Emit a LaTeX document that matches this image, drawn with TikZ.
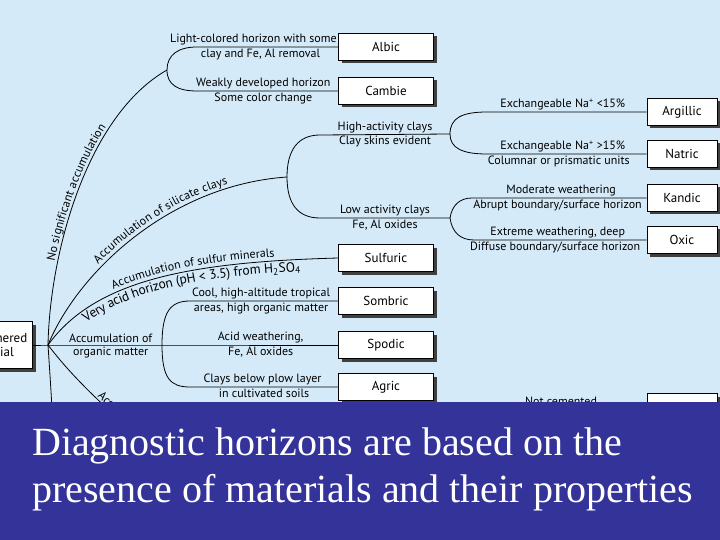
\documentclass[tikz,border=0pt]{standalone}
\usepackage{fontspec}
\setmainfont{Liberation Serif}
\setsansfont{PT Sans}
\usetikzlibrary{positioning,shadows,decorations.text}
\definecolor{skyblue}{HTML}{D5EAF8}
\definecolor{slateblue}{HTML}{333399}
\newcommand{\lblfont}{\sffamily\fontsize{12}{13}\selectfont}
\newcommand{\widefont}{\sffamily\fontsize{13.5}{14}\selectfont}

\begin{document}
\begin{tikzpicture}[
      x=1pt, y=-1pt,
      hbox/.style={
        draw=black,
        fill=white,
        line width=0.8pt,
        minimum width=95pt,
        minimum height=27pt,
        inner sep=1pt,
        font=\sffamily\fontsize{13}{14}\selectfont,
        drop shadow={shadow xshift=3pt,shadow yshift=-3pt,fill=black!75,opacity=1}
      },
      rbox/.style={hbox, minimum width=70pt},
      lbl/.style={
        font=\lblfont,
        inner sep=1.5pt
      },
      conn/.style={line width=0.8pt, black},
      curvetext/.style={
        postaction={decorate,
          decoration={text along path, text={|\lblfont|#1}}}
      }
    ]

    \useasboundingbox (0,0) rectangle (720,540);
    \clip (0,0) rectangle (720,540);
    \fill[skyblue] (0,0) rectangle (720,540);

    % horizon boxes
    \node[hbox, minimum width=70pt, minimum height=47pt, align=left,
      anchor=east] (weath) at (33,345) {Weathered\\material};
    \node[hbox] (albic) at (386,47) {Albic};
    \node[hbox] (cambic) at (386,91) {Cambie};
    \node[hbox] (sulfuric) at (386,258) {Sulfuric};
    \node[hbox] (sombric) at (386,301) {Sombric};
    \node[hbox] (spodic) at (386,345) {Spodic};
    \node[hbox] (agric) at (386,387) {Agric};
    \node[rbox] (argillic) at (682,112) {Argillic};
    \node[rbox] (natric) at (682,154) {Natric};
    \node[rbox] (kandic) at (682,198) {Kandic};
    \node[rbox] (oxic) at (682,240) {Oxic};
    \node[rbox] (lowbox) at (682,407) {};

    % branch points
    \coordinate (root) at (48,345);
    \coordinate (f1) at (167,70);
    \coordinate (a1) at (197,47);
    \coordinate (a2) at (197,91);
    \coordinate (f2) at (287,177);
    \coordinate (b1) at (320,135);
    \coordinate (b2) at (320,218);
    \coordinate (f3) at (450,134);
    \coordinate (c1) at (487,112);
    \coordinate (c2) at (487,154);
    \coordinate (f4) at (450,218);
    \coordinate (d1) at (472,198);
    \coordinate (d2) at (474,240);
    \coordinate (f5) at (162,345);
    \coordinate (e1) at (190,301);
    \coordinate (e2) at (190,387);
    \coordinate (lowA) at (54,460);
    \coordinate (lowB) at (160,455);

    % no significant accumulation
    \draw[conn, curvetext={No significant accumulation},
      decoration={text align=center, raise=3pt}]
      (root) .. controls (50,250) and (88,115) .. (f1);
    \draw[conn] (f1) .. controls (167,55) and (178,47) .. (a1)
      -- node[lbl,above,pos=.4] (tlight) {Light-colored horizon with some}
         node[lbl,below,pos=.45] (tclay) {clay and Fe, Al removal} (albic.west);
    \draw[conn] (f1) .. controls (167,85) and (178,91) .. (a2)
      -- node[lbl,above,pos=.47] (tweak) {Weakly developed horizon}
         node[lbl,below,pos=.47] (tcolor) {Some color change} (cambic.west);

    % silicate clays
    \draw[conn, curvetext={Accumulation of silicate clays},
      decoration={text align={left indent=95pt}, raise=4pt}]
      (root) .. controls (78,272) and (170,185) .. (f2);
    \draw[conn] (f2) .. controls (287,150) and (298,135) .. (b1)
      -- node[lbl,above] (thigh) {High-activity clays}
         node[lbl,below] (tskins) {Clay skins evident} (f3);
    \draw[conn] (f2) .. controls (287,204) and (298,218) .. (b2)
      -- node[lbl,above] (tlow) {Low activity clays}
         node[lbl,below] (toxa) {Fe, Al oxides} (f4);
    \draw[conn] (f3) .. controls (450,118) and (462,112) .. (c1)
      -- node[lbl,above,pos=.475] (tna1) {Exchangeable Na\textsuperscript{+} <15\%} (argillic.west);
    \draw[conn] (f3) .. controls (450,148) and (462,154) .. (c2)
      -- node[lbl,above,pos=.475] (tna2) {Exchangeable Na\textsuperscript{+} >15\%}
         node[lbl,below,pos=.45] (tcolumn) {Columnar or prismatic units} (natric.west);
    \draw[conn] (f4) .. controls (452,205) and (460,198) .. (d1)
      -- node[lbl,above,pos=.51] (tmod) {Moderate weathering}
         node[lbl,below,pos=.49] (tabrupt) {Abrupt boundary/surface horizon} (kandic.west);
    \draw[conn] (f4) .. controls (452,232) and (460,240) .. (d2)
      -- node[lbl,above,pos=.485] (textreme) {Extreme weathering, deep}
         node[lbl,below,pos=.47] (tdiffuse) {Diffuse boundary/surface horizon} (oxic.west);

    % sulfur minerals
    \draw[conn, curvetext={Accumulation of sulfur minerals},
      decoration={text align={left indent=86pt}, raise=4pt}]
      (root) .. controls (95,280) and (190,262) .. (sulfuric.west);
    \path[postaction={decorate, decoration={text along path,
        text={|\widefont|Very acid horizon (pH < 3.5) from H{\textsubscript{2}}SO{\textsubscript{4}}},
        text align={left indent=45pt}, raise=-12pt}}]
      (root) .. controls (95,280) and (190,262) .. (sulfuric.west);

    % organic matter
    \draw[conn] (weath.east) -- (root)
      -- node[lbl,above,pos=.55] (torg1) {Accumulation of}
         node[lbl,below,pos=.55] (torg2) {organic matter} (f5)
      -- node[lbl,above,pos=.56] (tacidw) {Acid weathering,}
         node[lbl,below,pos=.56] (toxb) {Fe, Al oxides} (spodic.west);
    \draw[conn] (f5) .. controls (162,312) and (170,301) .. (e1)
      -- node[lbl,above,pos=.48] (tcool) {Cool, high-altitude tropical}
         node[lbl,below,pos=.48] (tareas) {areas, high organic matter} (sombric.west);
    \draw[conn] (f5) .. controls (162,378) and (170,387) .. (e2)
      -- node[lbl,above,pos=.49] (tplow) {Clays below plow layer}
         node[lbl,below,pos=.5] (tcult) {in cultivated soils} (agric.west);

    % lower branches
    \draw[conn] (root) .. controls (51,390) and (53,420) .. (lowA);
    \draw[conn] (root) .. controls (62,363) and (85,392) ..
      node[lbl,sloped,above,pos=.62,anchor=south west] (tacc) {Acc} (lowB);
    \node[lbl] (tnotcem) at (561,401) {Not cemented};

    % caption banner
    \fill[slateblue] (0,402) rectangle (720,540);
    \node[anchor=north west, inner sep=0pt, align=left, text=white,
      font=\fontsize{40}{47}\selectfont] (caption) at (32,428)
      {Diagnostic horizons are based on the\\presence of materials and their properties};

  \end{tikzpicture}
\end{document}
